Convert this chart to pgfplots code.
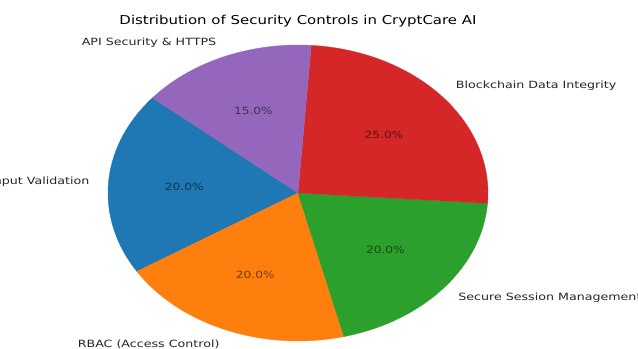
\documentclass[border=0pt]{standalone}
\usepackage{pgfplots}
\pgfplotsset{compat=1.18}
\usepackage{pgfplotstable}
\usepackage{graphicx}
\usepackage{fontspec}
\setmainfont{DejaVu Sans}
\definecolor{cBlue}{HTML}{1F77B4}
\definecolor{cOrange}{HTML}{FF7F0E}
\definecolor{cGreen}{HTML}{2CA02C}
\definecolor{cRed}{HTML}{D62728}
\definecolor{cPurple}{HTML}{9467BD}

% shares of the five controls (order: Input, RBAC, Session, Blockchain, API)
\pgfplotstableread{
pct
20
20
20
25
15
}\piedata

\newcommand\lab[1]{\scalebox{1.27}[1]{\fontsize{10}{12}\selectfont #1}}
\newcommand\ttl[1]{\scalebox{1.22}[1]{\fontsize{12.3}{14}\selectfont #1}}
\newcommand\pct[1]{\scalebox{1.22}[1]{\fontsize{10}{12}\selectfont\pgfmathprintnumber[fixed,fixed zerofill,precision=1,assume math mode=true]{#1}\%}}

\begin{document}%
\begin{tikzpicture}
\pgfplotstablegetelem{0}{pct}\of\piedata \let\pA\pgfplotsretval
\pgfplotstablegetelem{1}{pct}\of\piedata \let\pB\pgfplotsretval
\pgfplotstablegetelem{2}{pct}\of\piedata \let\pC\pgfplotsretval
\pgfplotstablegetelem{3}{pct}\of\piedata \let\pD\pgfplotsretval
\pgfplotstablegetelem{4}{pct}\of\piedata \let\pE\pgfplotsretval
\pgfmathsetmacro\sA{140}
\pgfmathsetmacro\eA{\sA+3.6*\pA}
\pgfmathsetmacro\eB{\eA+3.6*\pB}
\pgfmathsetmacro\eC{\eB+3.6*\pC}
\pgfmathsetmacro\eD{\eC+3.6*\pD}
\pgfmathsetmacro\eE{\eD+3.6*\pE}
\pgfmathsetmacro\mA{(\sA+\eA)/2}
\pgfmathsetmacro\mB{(\eA+\eB)/2}
\pgfmathsetmacro\mC{(\eB+\eC)/2}
\pgfmathsetmacro\mD{(\eC+\eD)/2}
\pgfmathsetmacro\mE{(\eD+\eE)/2}
\def\cx{298}\def\cy{193}\def\rx{190}\def\ry{148}
\useasboundingbox (0,0) rectangle (638bp,349bp);
\clip (0,0) rectangle (638bp,349bp);
\begin{axis}[at={(0,0)}, anchor=south west, scale only axis,
  width=638bp, height=349bp, xmin=0, xmax=638, ymin=0, ymax=349,
  y dir=reverse, hide axis, ticks=none, clip=false]
\addplot[fill=cBlue, draw=cBlue, line width=0.3pt, domain=\sA:\eA, samples=80, variable=\t] ({\cx+\rx*cos(\t)},{\cy-\ry*sin(\t)}) -- (axis cs:\cx,\cy) -- cycle;
\addplot[fill=cOrange, draw=cOrange, line width=0.3pt, domain=\eA:\eB, samples=80, variable=\t] ({\cx+\rx*cos(\t)},{\cy-\ry*sin(\t)}) -- (axis cs:\cx,\cy) -- cycle;
\addplot[fill=cGreen, draw=cGreen, line width=0.3pt, domain=\eB:\eC, samples=80, variable=\t] ({\cx+\rx*cos(\t)},{\cy-\ry*sin(\t)}) -- (axis cs:\cx,\cy) -- cycle;
\addplot[fill=cRed, draw=cRed, line width=0.3pt, domain=\eC:\eD, samples=80, variable=\t] ({\cx+\rx*cos(\t)},{\cy-\ry*sin(\t)}) -- (axis cs:\cx,\cy) -- cycle;
\addplot[fill=cPurple, draw=cPurple, line width=0.3pt, domain=\eD:\eE, samples=80, variable=\t] ({\cx+\rx*cos(\t)},{\cy-\ry*sin(\t)}) -- (axis cs:\cx,\cy) -- cycle;

\node[inner sep=0pt] at (axis cs:298,21) {\ttl{Distribution of Security Controls in CryptCare AI}};

\node[inner sep=0pt, anchor=east, text=black!85] at (axis cs:{\cx+1.1*\rx*cos(\mA)},{\cy-1.1*\ry*sin(\mA)}) {\lab{Input Validation}};
\node[inner sep=0pt, anchor=east, text=black!85] at (axis cs:{\cx+1.1*\rx*cos(\mB)},{\cy-1.1*\ry*sin(\mB)}) {\lab{RBAC (Access Control)}};
\node[inner sep=0pt, anchor=west, text=black!85] at (axis cs:{\cx+1.1*\rx*cos(\mC)},{\cy-1.1*\ry*sin(\mC)}) {\lab{Secure Session Management}};
\node[inner sep=0pt, anchor=west, text=black!85] at (axis cs:{\cx+1.1*\rx*cos(\mD)},{\cy-1.1*\ry*sin(\mD)}) {\lab{Blockchain Data Integrity}};
\node[inner sep=0pt, anchor=east, text=black!85] at (axis cs:{\cx+1.1*\rx*cos(\mE)},{\cy-1.1*\ry*sin(\mE)}) {\lab{API Security \& HTTPS}};

\node[inner sep=0pt, text=cBlue!45!black] at (axis cs:{\cx+0.6*\rx*cos(\mA)},{\cy-0.6*\ry*sin(\mA)}) {\pct{\pA}};
\node[inner sep=0pt, text=cOrange!45!black] at (axis cs:{\cx+0.6*\rx*cos(\mB)},{\cy-0.6*\ry*sin(\mB)}) {\pct{\pB}};
\node[inner sep=0pt, text=cGreen!45!black] at (axis cs:{\cx+0.6*\rx*cos(\mC)},{\cy-0.6*\ry*sin(\mC)}) {\pct{\pC}};
\node[inner sep=0pt, text=cRed!45!black] at (axis cs:{\cx+0.6*\rx*cos(\mD)},{\cy-0.6*\ry*sin(\mD)}) {\pct{\pD}};
\node[inner sep=0pt, text=cPurple!45!black] at (axis cs:{\cx+0.6*\rx*cos(\mE)},{\cy-0.6*\ry*sin(\mE)}) {\pct{\pE}};
\end{axis}
\end{tikzpicture}%
\end{document}
